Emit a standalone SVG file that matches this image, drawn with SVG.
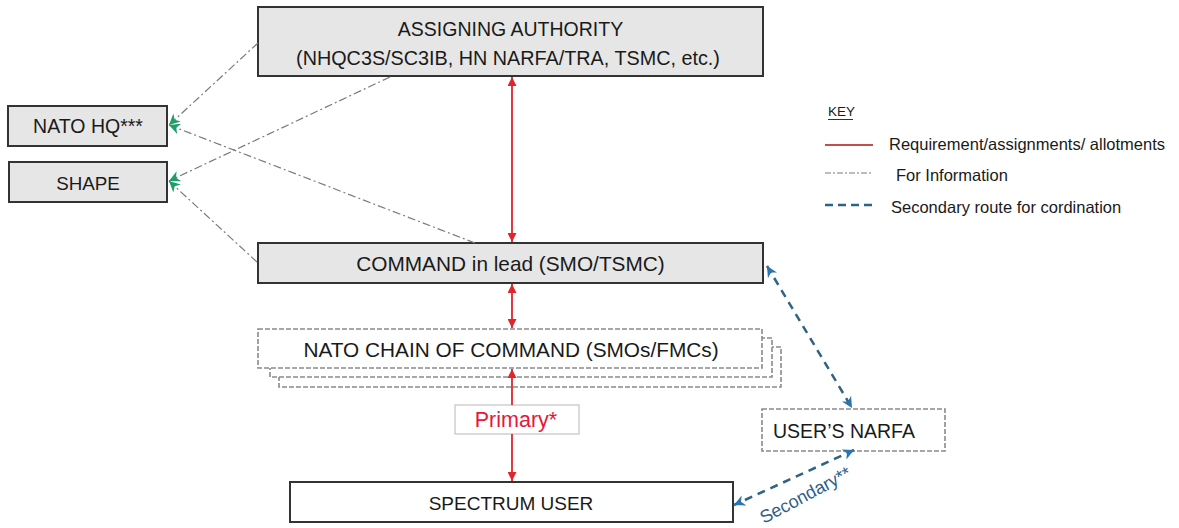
<svg xmlns="http://www.w3.org/2000/svg" width="1179" height="528" viewBox="0 0 1179 528">
<style>
text{font-family:"Liberation Sans",Arial,sans-serif;fill:#1a1a1a}
.t{font-size:19.5px}
.tb{font-size:20.8px}
.k{font-size:16.5px}
.gbox{fill:#e6e6e6;stroke:#333;stroke-width:2}
.wbox{fill:#fff;stroke:#333;stroke-width:2}
.dbox{fill:#fff;stroke:#8a8a8a;stroke-width:1.6;stroke-dasharray:5 2}
.red{stroke:#e0252b;stroke-width:1.8;fill:none}
.info{stroke:#7a7a7a;stroke-width:1.2;fill:none;stroke-dasharray:8 3 2 3}
.blue{stroke:#2f6384;stroke-width:2.5;fill:none;stroke-dasharray:8 6}
</style>
<defs>
<marker id="ar" viewBox="0 0 10 10" refX="10" refY="5" markerWidth="9" markerHeight="9" markerUnits="userSpaceOnUse" orient="auto-start-reverse">
<path d="M0,0 L10,5 L0,10 z" fill="#e0252b"/>
</marker>
<marker id="ab" viewBox="0 0 10 10" refX="10" refY="5" markerWidth="11" markerHeight="11" markerUnits="userSpaceOnUse" orient="auto-start-reverse">
<path d="M0,0 L10,5 L0,10 L3,5 z" fill="#2a74b0"/>
</marker>
<marker id="ag" viewBox="0 0 10 10" refX="10" refY="5" markerWidth="11" markerHeight="11" markerUnits="userSpaceOnUse" orient="auto">
<path d="M0,0 L10,5 L0,10 L3,5 z" fill="#1f9e68"/>
</marker>
</defs>

<g id="assigning-authority">
<rect class="gbox" x="258" y="7" width="505" height="69"/>
<text class="t" x="510.5" y="36" text-anchor="middle">ASSIGNING  AUTHORITY</text>
<text class="t" x="508" y="65" text-anchor="middle" style="font-size:19.8px">(NHQC3S/SC3IB, HN NARFA/TRA, TSMC, etc.)</text>
</g>

<g id="nato-hq">
<rect class="gbox" x="8" y="106" width="159" height="40"/>
<text class="t" x="88" y="133" text-anchor="middle">NATO HQ***</text>
</g>

<g id="shape">
<rect class="gbox" x="9" y="162" width="158" height="40"/>
<text class="t" x="88" y="190" text-anchor="middle" style="font-size:18.8px">SHAPE</text>
</g>

<g id="command-in-lead">
<rect class="gbox" x="258" y="243" width="505" height="40"/>
<text class="tb" x="510.5" y="271" text-anchor="middle">COMMAND in lead (SMO/TSMC)</text>
</g>

<g id="nato-chain">
<rect class="dbox" x="279" y="347" width="502" height="40"/>
<rect class="dbox" x="270" y="338" width="502" height="39"/>
<rect class="dbox" x="258" y="329" width="504" height="39"/>
<text class="tb" x="511" y="357" text-anchor="middle">NATO CHAIN OF COMMAND (SMOs/FMCs)</text>
</g>

<g id="primary">
<rect x="455" y="405" width="124" height="29" fill="#fff" stroke="#c4c4c4" stroke-width="1.2"/>
<text x="516" y="427" text-anchor="middle" style="font-size:21.5px;fill:#e8173a">Primary*</text>
</g>

<g id="spectrum-user">
<rect class="wbox" x="290" y="482" width="443" height="40"/>
<text class="t" x="511" y="510" text-anchor="middle" style="font-size:19px">SPECTRUM USER</text>
</g>

<g id="users-narfa">
<rect class="dbox" x="762" y="409" width="183" height="42"/>
<text class="t" x="773" y="438">USER’S NARFA</text>
</g>

<g id="key">
<text x="828" y="116" style="font-size:13.5px">KEY</text>
<line x1="828" y1="119.5" x2="853" y2="119.5" stroke="#333" stroke-width="1"/>
<line x1="825" y1="145" x2="873" y2="145" stroke="#c0504d" stroke-width="1.8"/>
<text class="k" x="889" y="150">Requirement/assignments/ allotments</text>
<line x1="825" y1="173" x2="873" y2="173" stroke="#7a7a7a" stroke-width="1" stroke-dasharray="6 2 2 2"/>
<text class="k" x="896" y="181">For Information</text>
<line x1="825" y1="205" x2="873" y2="205" stroke="#2f6384" stroke-width="2.5" stroke-dasharray="8 5"/>
<text class="k" x="891" y="213">Secondary route  for cordination</text>
</g>

<g id="connectors">
<line class="info" x1="258" y1="43" x2="169" y2="125" marker-end="url(#ag)"/>
<line class="info" x1="475" y1="243" x2="169" y2="125" marker-end="url(#ag)"/>
<line class="info" x1="390" y1="77" x2="169" y2="181" marker-end="url(#ag)"/>
<line class="info" x1="257" y1="262" x2="169" y2="181" marker-end="url(#ag)"/>
<line class="red" x1="512" y1="77" x2="512" y2="242" marker-start="url(#ar)" marker-end="url(#ar)"/>
<line class="red" x1="512" y1="284" x2="512" y2="328" marker-start="url(#ar)" marker-end="url(#ar)"/>
<line class="red" x1="512" y1="405" x2="512" y2="369" marker-end="url(#ar)"/>
<line class="red" x1="512" y1="434" x2="512" y2="481" marker-end="url(#ar)"/>
<line class="blue" x1="767" y1="266" x2="852" y2="408" marker-start="url(#ab)" marker-end="url(#ab)"/>
<line class="blue" x1="854" y1="450" x2="734" y2="505" marker-start="url(#ab)" marker-end="url(#ab)"/>
<text x="764" y="524" transform="rotate(-28 764 524)" style="font-size:18px;fill:#2f5f8a">Secondary**</text>
</g>
</svg>
